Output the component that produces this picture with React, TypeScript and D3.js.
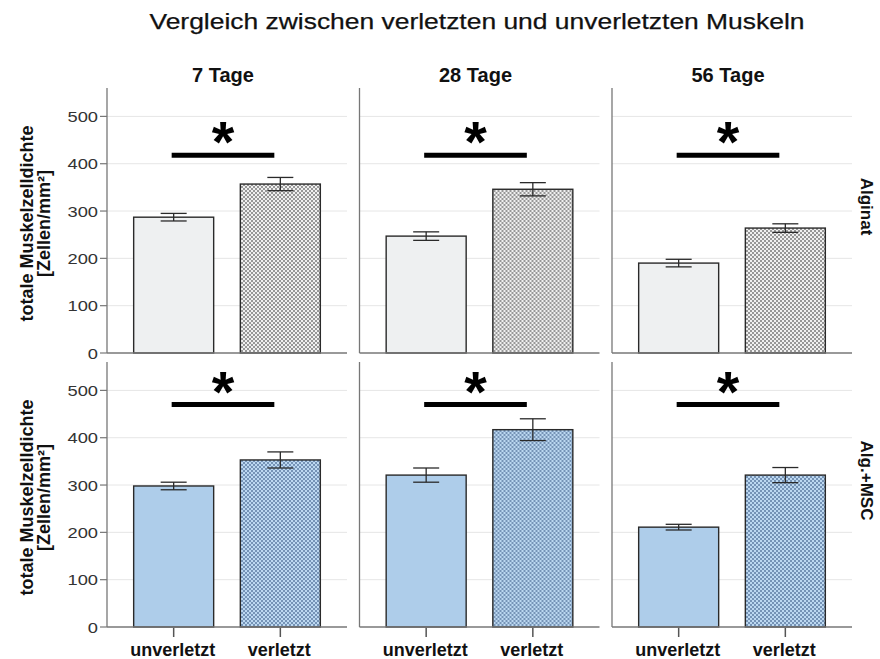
import React from 'react';
import * as d3 from 'd3';

const days = ['7 Tage', '28 Tage', '56 Tage'];
const groups = ['Alginat', 'Alg.+MSC'];
const categories = ['unverletzt', 'verletzt'];
// means per day: [unverletzt, verletzt]
const alginatMeans = [[287, 357], [247, 346], [190, 264]];
const alginatErr = [[8, 14], [9, 14], [8, 9]];
const mscMeans = [[298, 353], [321, 417], [211, 321]];
const mscErr = [[8, 17], [15, 23], [6, 16]];
const yTicks = [0, 100, 200, 300, 400, 500];
const sigLineLevel = [418, 470];
const starLevel = [469, 520];
const title = 'Vergleich zwischen verletzten und unverletzten Muskeln';
const yTitle = ['totale Muskelzelldichte', '[Zellen/mm²]'];

const W = 880;
const H = 659;
const FONT = '"Liberation Sans", Arial, sans-serif';
const rowTops = [88, 362];
const panelH = 265;

export default function App() {
  const xPanel = d3.scaleBand<string>().domain(days).range([107, 852]).paddingInner(12.5 / 252.5);
  const pw = xPanel.bandwidth();
  const xBar = d3.scaleBand<string>().domain(categories).range([0, pw]).paddingInner(0.25).paddingOuter(0.25);
  const y = d3.scaleLinear().domain([0, 560]).range([panelH, 0]);
  const bw = xBar.bandwidth();
  const means = [alginatMeans, mscMeans];
  const errs = [alginatErr, mscErr];
  const fills = [
    ['#eef0f1', 'url(#patGray)'],
    ['#aecdea', 'url(#patBlue)'],
  ];

  return (
    <svg width={W} height={H} style={{ position: 'absolute', left: 0, top: 0, background: '#fff' }} fontFamily={FONT}>
      <defs>
        <pattern id="patGray" width="4" height="4" patternUnits="userSpaceOnUse">
          <rect width="4" height="4" fill="#f0f0f0" />
          <rect width="2" height="2" fill="#979797" />
          <rect x="2" y="2" width="2" height="2" fill="#979797" />
        </pattern>
        <pattern id="patBlue" width="4" height="4" patternUnits="userSpaceOnUse">
          <rect width="4" height="4" fill="#bcd8f1" />
          <rect width="2" height="2" fill="#7593b6" />
          <rect x="2" y="2" width="2" height="2" fill="#7593b6" />
        </pattern>
      </defs>
      <rect width={W} height={H} fill="#fff" />
      <text x={477} y={29} textAnchor="middle" fontSize={22} fill="#111" stroke="#111" strokeWidth={0.25} textLength={655} lengthAdjust="spacingAndGlyphs">
        {title}
      </text>
      {days.map((d) => (
        <text key={d} x={(xPanel(d) as number) + pw / 2 - 4} y={82} textAnchor="middle" fontSize={20} fontWeight="bold" fill="#111">
          {d}
        </text>
      ))}
      {groups.map((g, r) => (
        <g key={g} transform={`translate(0,${rowTops[r]})`}>
          {/* y axis title */}
          <g transform={`translate(0,${panelH / 2 + 3}) rotate(-90)`}>
            <text x={0} y={33} textAnchor="middle" fontSize={18} fontWeight="bold" fill="#111">{yTitle[0]}</text>
            <text x={0} y={50} textAnchor="middle" fontSize={18} fontWeight="bold" fill="#111">{yTitle[1]}</text>
          </g>
          {/* row label */}
          <text transform={`translate(861,${panelH / 2 - 14}) rotate(90)`} textAnchor="middle" fontSize={17} fontWeight="bold" fill="#111">
            {g}
          </text>
          {/* y ticks on first panel */}
          {yTicks.map((t) => (
            <g key={t} transform={`translate(${xPanel(days[0])},${y(t)})`}>
              <line x1={-7} x2={0} stroke="#777" strokeWidth={1.2} />
              <text transform="translate(-9,5.5) scale(1.22,1)" textAnchor="end" fontSize={15} fill="#333">{t}</text>
            </g>
          ))}
          {days.map((d, c) => {
            const px = xPanel(d) as number;
            return (
              <g key={d} transform={`translate(${px},0)`}>
                {yTicks.filter((t) => t > 0).map((t) => (
                  <line key={t} x1={0} x2={pw} y1={y(t)} y2={y(t)} stroke="#e6e6e6" strokeWidth={1} />
                ))}
                {categories.map((cat, k) => {
                  const v = means[r][c][k];
                  const e = errs[r][c][k];
                  const bx = xBar(cat) as number;
                  const cx = bx + bw / 2;
                  return (
                    <g key={cat}>
                      <rect x={bx} y={y(v)} width={bw} height={y(0) - y(v)} fill={fills[r][k]} stroke="#2a2a2a" strokeWidth={1.4} />
                      <line x1={cx} x2={cx} y1={y(v + e)} y2={y(v - e)} stroke="#2a2a2a" strokeWidth={1.3} />
                      <line x1={cx - 13} x2={cx + 13} y1={y(v + e)} y2={y(v + e)} stroke="#2a2a2a" strokeWidth={1.3} />
                      <line x1={cx - 13} x2={cx + 13} y1={y(v - e)} y2={y(v - e)} stroke="#2a2a2a" strokeWidth={1.3} />
                      {r === 1 && (
                        <g>
                          <line x1={cx} x2={cx} y1={y(0)} y2={y(0) + 10} stroke="#555" strokeWidth={1.5} />
                          <text x={cx - 1} y={y(0) + 29} textAnchor="middle" fontSize={18} fontWeight="bold" fill="#111">{cat}</text>
                        </g>
                      )}
                    </g>
                  );
                })}
                <line x1={0} x2={0} y1={0} y2={y(0)} stroke="#777" strokeWidth={1.3} />
                <line x1={0} x2={pw} y1={y(0)} y2={y(0)} stroke="#777" strokeWidth={1.3} />
                {(() => {
                  const c0 = (xBar(categories[0]) as number) + bw / 2 - 2;
                  const c1 = (xBar(categories[1]) as number) + bw / 2 - 6;
                  const mid = (c0 + c1) / 2;
                  return (
                    <g>
                      <line x1={c0} x2={c1} y1={y(sigLineLevel[r])} y2={y(sigLineLevel[r])} stroke="#000" strokeWidth={5} />
                      <text x={mid} y={y(starLevel[r]) + 31} textAnchor="middle" fontSize={58} fontWeight="bold" fill="#000">*</text>
                    </g>
                  );
                })()}
              </g>
            );
          })}
        </g>
      ))}
    </svg>
  );
}
